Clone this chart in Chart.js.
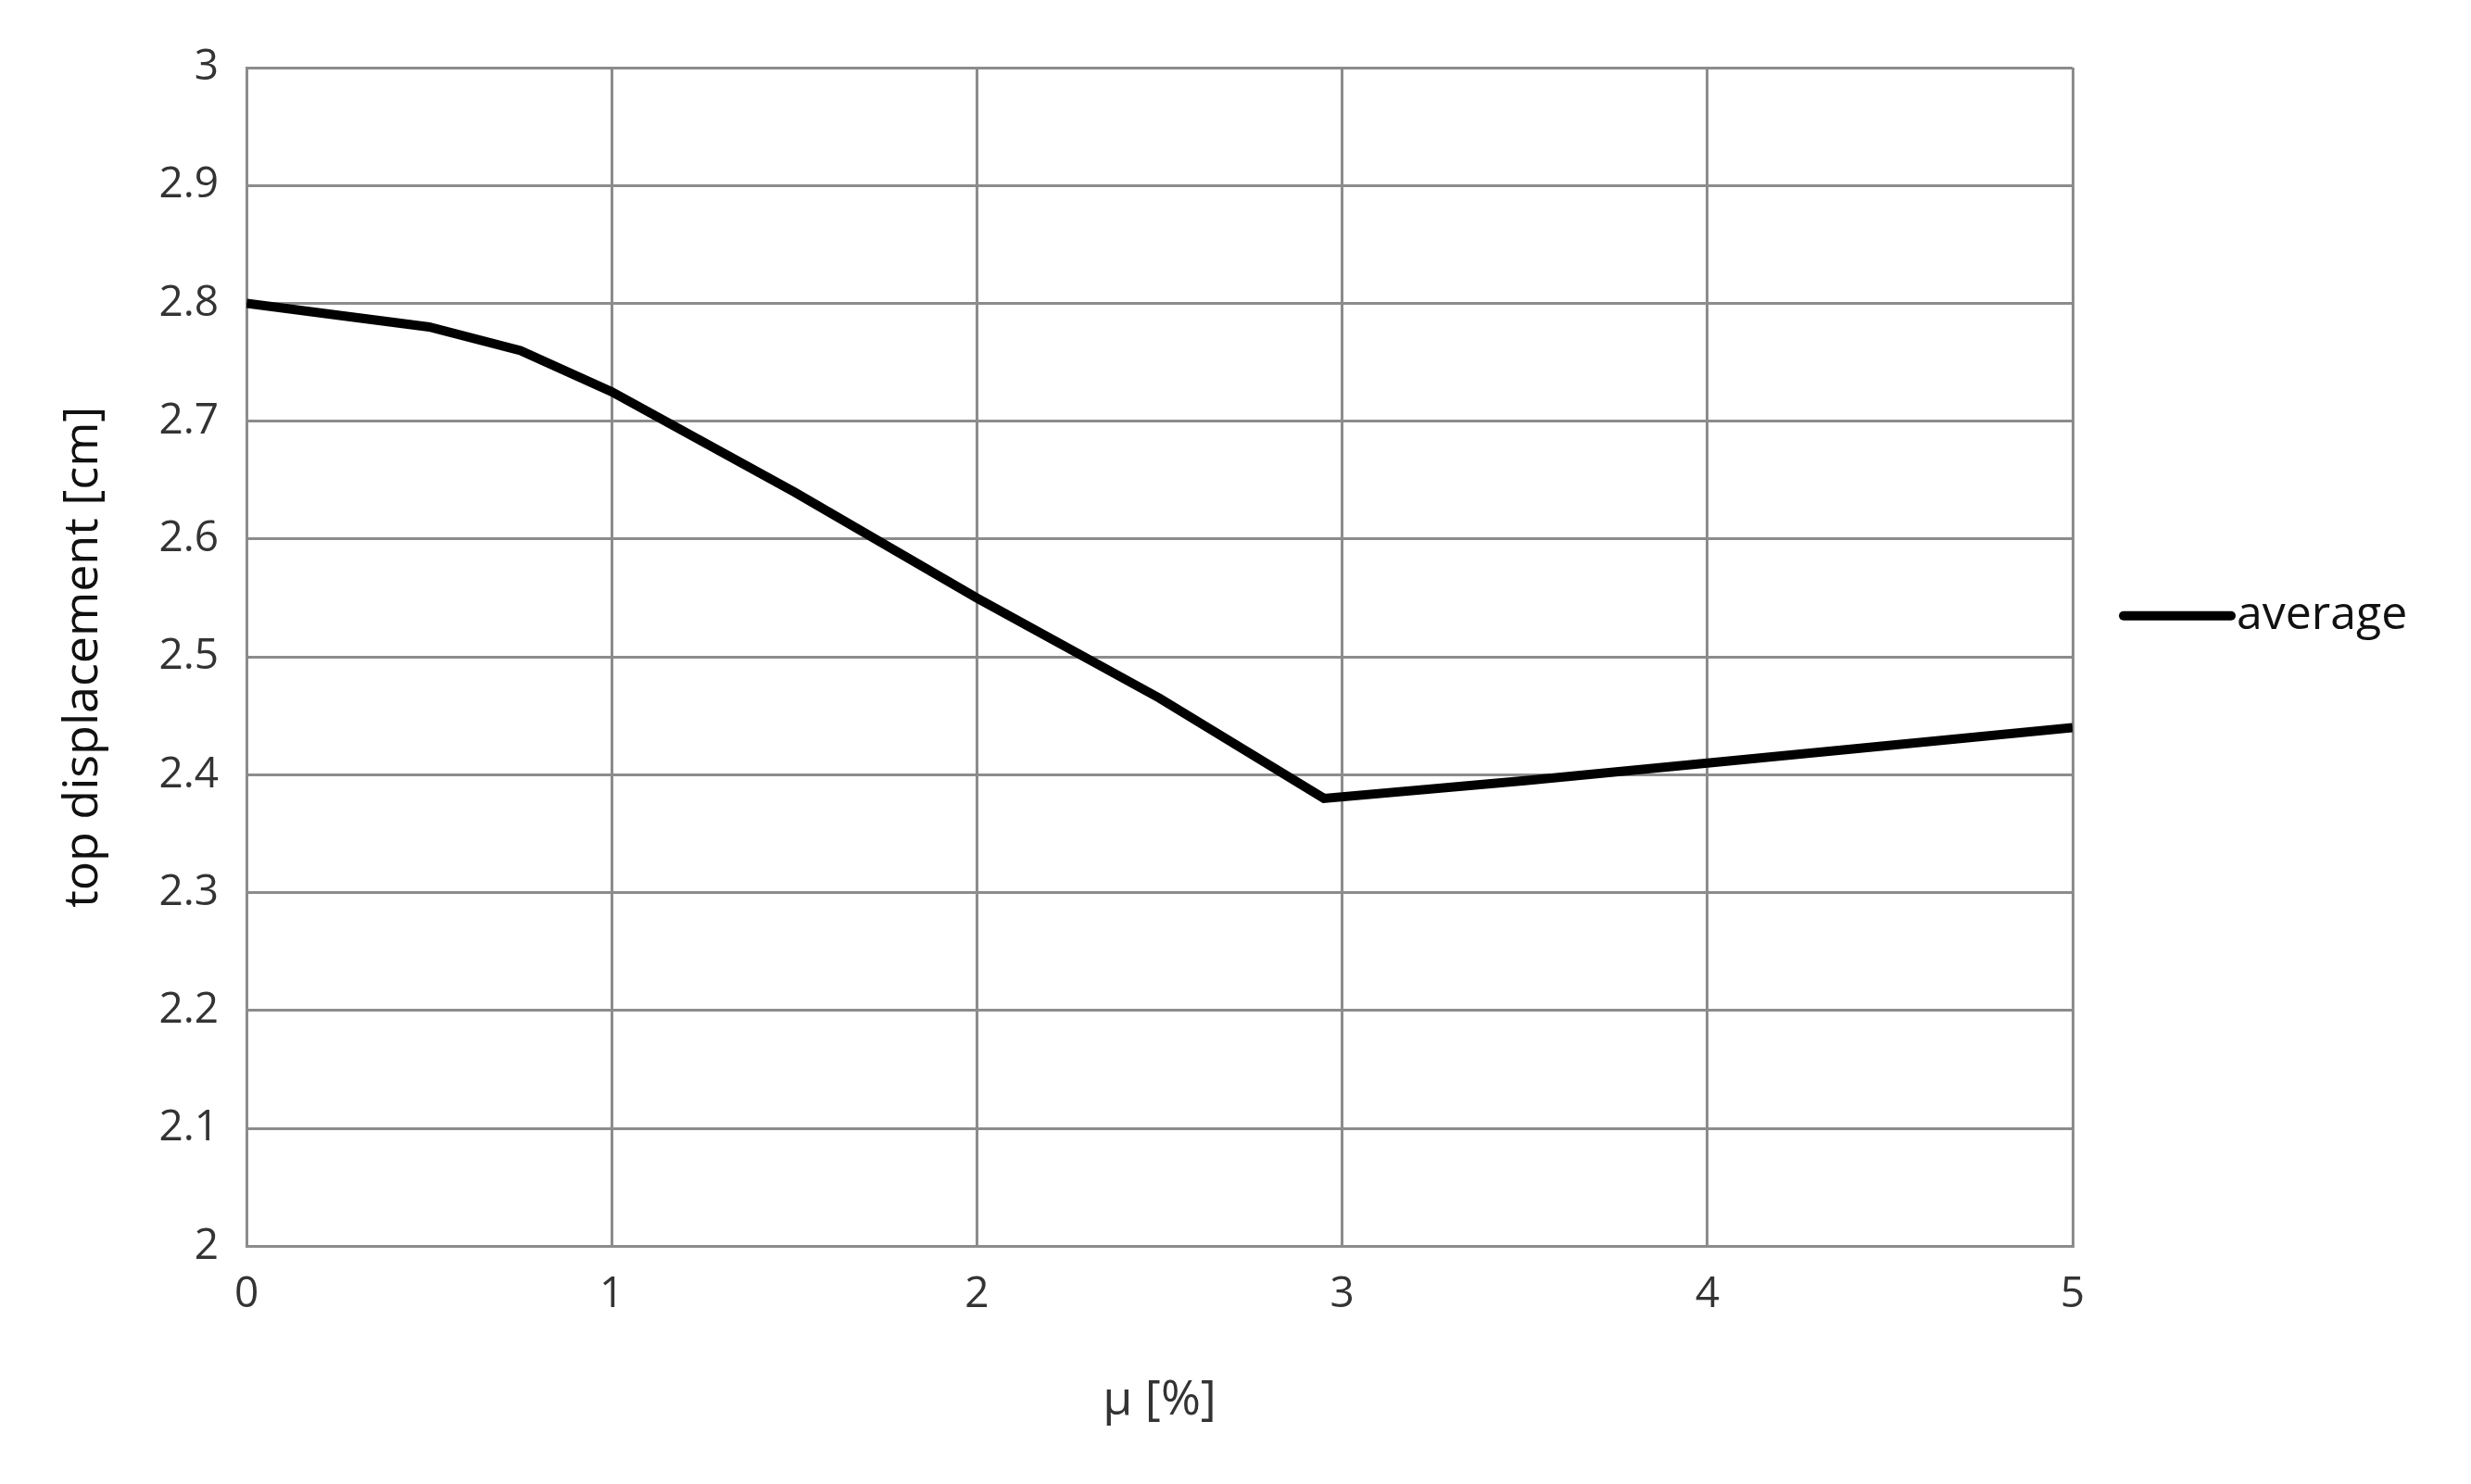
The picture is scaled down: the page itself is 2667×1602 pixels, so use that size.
<!DOCTYPE html>
<html><head><meta charset="utf-8">
<script src="https://cdn.jsdelivr.net/npm/chart.js@4"></script>
<style>html,body{margin:0;padding:0;background:#fff}</style>
</head><body>
<canvas id="c" width="2667" height="1602"></canvas>
<script>
const xValues = [0, 0.25, 0.5, 0.75, 1, 1.5, 2, 2.5, 2.95, 3.5, 4, 5];
const yValues = [2.8, 2.79, 2.78, 2.76, 2.725, 2.64, 2.55, 2.465, 2.38, 2.395, 2.41, 2.44];
const seriesName = 'average';
const xTitle = 'μ [%]';
const yTitle = 'top displacement [cm]';
const legendY = 2.535;
const font = "'Open Sans', 'Liberation Sans', sans-serif";
const grid = '#8c8c8c';
const legendPlugin = { id: 'lg', afterDraw(c) {
  const ctx = c.ctx, x0 = c.chartArea.right + 55, y = c.scales.y.getPixelForValue(legendY);
  ctx.save(); ctx.strokeStyle = '#000'; ctx.lineWidth = 10; ctx.lineCap = 'round';
  ctx.beginPath(); ctx.moveTo(x0, y); ctx.lineTo(x0 + 116, y); ctx.stroke();
  ctx.fillStyle = '#111'; ctx.font = "50px " + font; ctx.textBaseline = 'middle';
  ctx.fillText(seriesName, x0 + 122, y); ctx.restore(); } };
new Chart(document.getElementById('c'), {
  type: 'line',
  data: { datasets: [{ label: seriesName, data: xValues.map((x,i)=>({x, y: yValues[i]})),
    borderColor: '#000', borderWidth: 10, pointRadius: 0, tension: 0 }] },
  options: {
    responsive: false, devicePixelRatio: 1, animation: false,
    layout: { padding: { left: 55, top: 73, right: 430, bottom: 55 } },
    plugins: { legend: { display: false }, tooltip: { enabled: false } },
    scales: {
      x: { type: 'linear', min: 0, max: 5,
        ticks: { stepSize: 1, font: { family: font, size: 46 }, color: '#333', padding: 25 },
        grid: { color: grid, lineWidth: 3, drawTicks: false }, border: { color: grid, width: 3 },
        title: { display: true, text: xTitle, font: { family: font, size: 52 }, color: '#333', padding: { top: 30 } } },
      y: { min: 2, max: 3,
        ticks: { stepSize: 0.1, font: { family: font, size: 46 }, color: '#333', padding: 30,
          callback: v => String(Math.round(v * 10) / 10) },
        grid: { color: grid, lineWidth: 3, drawTicks: false }, border: { color: grid, width: 3 },
        title: { display: true, text: yTitle, font: { family: font, size: 52 }, color: '#111', padding: { bottom: 20 } } }
    }
  },
  plugins: [legendPlugin]
});
</script>
</body></html>
